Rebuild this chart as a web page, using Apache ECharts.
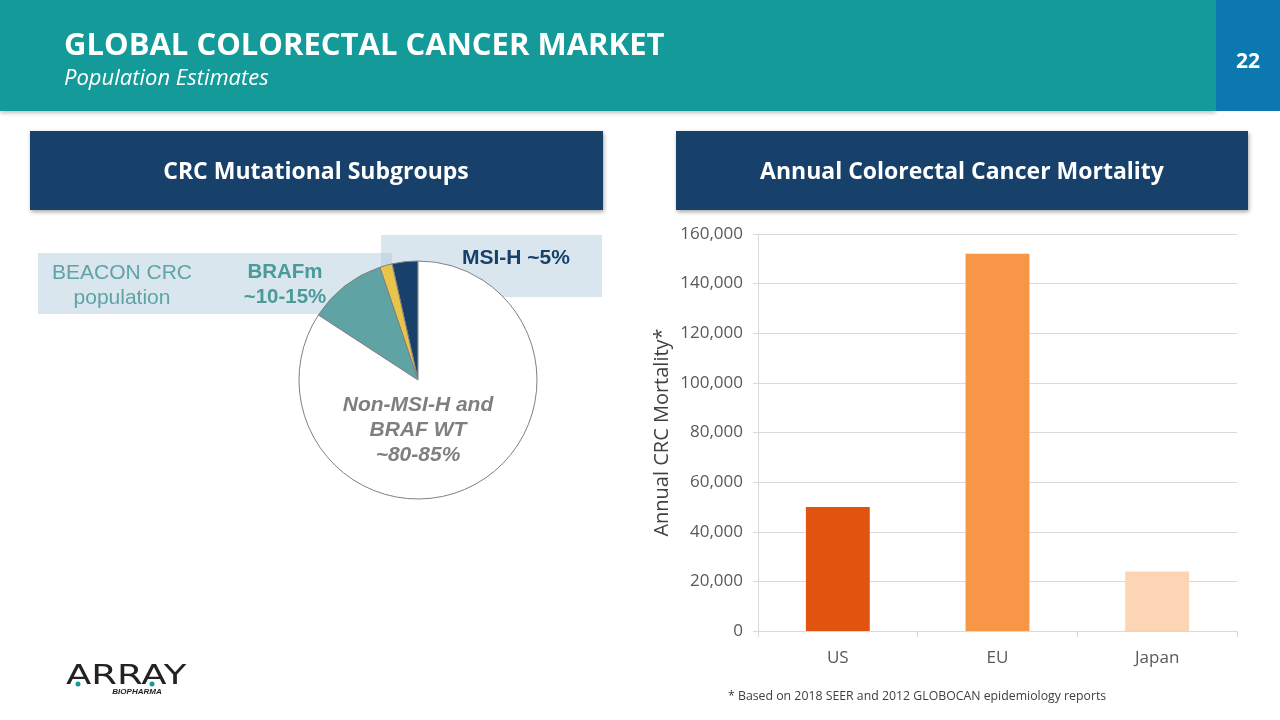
<!DOCTYPE html>
<html>
<head>
<meta charset="utf-8">
<script src="https://cdn.jsdelivr.net/npm/echarts@6/dist/echarts.min.js"></script>
<style>
html,body{margin:0;padding:0;background:#fff;}
#c{width:1280px;height:720px;}
</style>
</head>
<body>
<div id="c"></div>
<script>
// ---- data ----
const categories = ['US', 'EU', 'Japan'];
const mortality = [50000, 152000, 24000];
const yTicks = [0, 20000, 40000, 60000, 80000, 100000, 120000, 140000, 160000];
const subgroupNames = ['MSI-H', 'Other', 'BRAFm', 'Non-MSI-H and BRAF WT'];
const subgroupValues = [3.5, 1.7, 10.6, 84.2];

const chart = echarts.init(document.getElementById('c'), null, {renderer: 'canvas'});
const F = '"Open Sans", "Noto Sans", sans-serif';
const A = 'Arial, "Liberation Sans", sans-serif';
const barColors = ['#e05410', '#f79646', '#fcd5b5'];
const sliceColors = ['#17406b', '#e8c44a', '#5fa3a5', '#ffffff'];

const option = {
  animation: false,
  backgroundColor: '#ffffff',
  grid: {left: 758, right: 43, top: 234, bottom: 89, containLabel: false},
  xAxis: {
    type: 'category',
    data: categories,
    axisLine: {show: true, lineStyle: {color: '#d9d9d9', width: 1}},
    axisTick: {show: true, length: 6, interval: 0, lineStyle: {color: '#d9d9d9'}},
    axisLabel: {color: '#595959', fontSize: 17, fontFamily: F, margin: 19}
  },
  yAxis: {
    type: 'value',
    min: yTicks[0],
    max: yTicks[yTicks.length - 1],
    interval: yTicks[1] - yTicks[0],
    name: 'Annual CRC Mortality*',
    nameLocation: 'middle',
    nameRotate: 90,
    nameGap: 86,
    nameTextStyle: {color: '#404040', fontSize: 20, fontFamily: F},
    axisLine: {show: true, lineStyle: {color: '#d9d9d9', width: 1}},
    axisTick: {show: true, length: 5, lineStyle: {color: '#d9d9d9'}},
    splitLine: {show: true, lineStyle: {color: '#d9d9d9', width: 1}},
    axisLabel: {
      color: '#595959', fontSize: 17, fontFamily: F, margin: 15,
      formatter: v => v.toLocaleString('en-US')
    }
  },
  series: [
    {
      type: 'bar',
      barWidth: '40%',
      data: mortality.map((v, i) => ({value: v, itemStyle: {color: barColors[i]}})),
      z: 3
    },
    {
      type: 'pie',
      center: [418, 380],
      radius: 119,
      startAngle: 90,
      clockwise: false,
      label: {show: false},
      labelLine: {show: false},
      silent: true,
      z: 5,
      itemStyle: {borderColor: '#808080', borderWidth: 1},
      data: subgroupNames.map((n, i) => ({name: n, value: subgroupValues[i], itemStyle: {color: sliceColors[i]}}))
    }
  ],
  graphic: [
    // header band
    {type: 'rect', z: 1, shape: {x: 0, y: 0, width: 1216, height: 111},
      style: {fill: '#159a9a', shadowBlur: 4, shadowOffsetY: 2, shadowColor: 'rgba(0,0,0,0.25)'}},
    {type: 'rect', z: 1, shape: {x: 1216, y: 0, width: 64, height: 111}, style: {fill: '#0b78b0'}},
    {type: 'text', z: 2, x: 64, y: 46, style: {text: 'GLOBAL COLORECTAL CANCER MARKET', fill: '#fff',
      font: 'bold 31px ' + F, textVerticalAlign: 'middle'}},
    {type: 'text', z: 2, x: 64, y: 79, style: {text: 'Population Estimates', fill: '#fff',
      font: 'italic 22px ' + F, textVerticalAlign: 'middle'}},
    {type: 'text', z: 2, x: 1248, y: 62, style: {text: '22', fill: '#fff',
      font: 'bold 21px ' + F, textAlign: 'center', textVerticalAlign: 'middle'}},
    // section headers
    {type: 'rect', z: 1, shape: {x: 30, y: 131, width: 573, height: 79},
      style: {fill: '#17406b', shadowBlur: 4, shadowOffsetX: 1, shadowOffsetY: 2, shadowColor: 'rgba(0,0,0,0.35)'}},
    {type: 'rect', z: 1, shape: {x: 676, y: 131, width: 572, height: 79},
      style: {fill: '#17406b', shadowBlur: 4, shadowOffsetX: 1, shadowOffsetY: 2, shadowColor: 'rgba(0,0,0,0.35)'}},
    {type: 'text', z: 2, x: 316, y: 172, style: {text: 'CRC Mutational Subgroups', fill: '#fff',
      font: 'bold 23px ' + F, textAlign: 'center', textVerticalAlign: 'middle'}},
    {type: 'text', z: 2, x: 962, y: 172, style: {text: 'Annual Colorectal Cancer Mortality', fill: '#fff',
      font: 'bold 23px ' + F, textAlign: 'center', textVerticalAlign: 'middle'}},
    // light callout boxes behind pie
    {type: 'rect', z: 0, shape: {x: 38, y: 253, width: 354, height: 61}, style: {fill: 'rgba(170,200,218,0.45)'}},
    {type: 'rect', z: 0, shape: {x: 381, y: 235, width: 221, height: 62}, style: {fill: 'rgba(170,200,218,0.45)'}},
    // pie annotations
    {type: 'text', z: 10, x: 122, y: 273, style: {text: 'BEACON CRC', fill: '#5fa3a5',
      font: '21px ' + A, textAlign: 'center', textVerticalAlign: 'middle'}},
    {type: 'text', z: 10, x: 122, y: 298, style: {text: 'population', fill: '#5fa3a5',
      font: '21px ' + A, textAlign: 'center', textVerticalAlign: 'middle'}},
    {type: 'text', z: 10, x: 285, y: 272, style: {text: 'BRAFm', fill: '#4a9a9a',
      font: 'bold 20.5px ' + A, textAlign: 'center', textVerticalAlign: 'middle'}},
    {type: 'text', z: 10, x: 285, y: 297, style: {text: '~10-15%', fill: '#4a9a9a',
      font: 'bold 20.5px ' + A, textAlign: 'center', textVerticalAlign: 'middle'}},
    {type: 'text', z: 10, x: 516, y: 258, style: {text: 'MSI-H ~5%', fill: '#17406b',
      font: 'bold 21px ' + A, textAlign: 'center', textVerticalAlign: 'middle'}},
    {type: 'text', z: 10, x: 418, y: 405, style: {text: 'Non-MSI-H and', fill: '#7f7f7f',
      font: 'italic bold 21px ' + A, textAlign: 'center', textVerticalAlign: 'middle'}},
    {type: 'text', z: 10, x: 418, y: 430, style: {text: 'BRAF WT', fill: '#7f7f7f',
      font: 'italic bold 21px ' + A, textAlign: 'center', textVerticalAlign: 'middle'}},
    {type: 'text', z: 10, x: 418, y: 455, style: {text: '~80-85%', fill: '#7f7f7f',
      font: 'italic bold 21px ' + A, textAlign: 'center', textVerticalAlign: 'middle'}},
    // logo
    {type: 'text', z: 2, x: 66, y: 677, scaleX: 1.37, style: {text: 'ARRAY', fill: '#222',
      font: '27px "DejaVu Sans", sans-serif', textAlign: 'left', textVerticalAlign: 'middle'}},
    {type: 'circle', z: 3, shape: {cx: 78, cy: 684, r: 2.5}, style: {fill: '#159a9a'}},
    {type: 'circle', z: 3, shape: {cx: 152, cy: 684, r: 2.5}, style: {fill: '#159a9a'}},
    {type: 'text', z: 2, x: 137, y: 692, style: {text: 'BIOPHARMA', fill: '#222',
      font: 'italic bold 8px ' + A, textAlign: 'center', textVerticalAlign: 'middle'}},
    // footnote
    {type: 'text', z: 2, x: 728, y: 696, style: {text: '* Based on 2018 SEER and 2012 GLOBOCAN epidemiology reports',
      fill: '#404040', font: '12.3px ' + F, textVerticalAlign: 'middle'}}
  ]
};
chart.setOption(option);
</script>
</body>
</html>
